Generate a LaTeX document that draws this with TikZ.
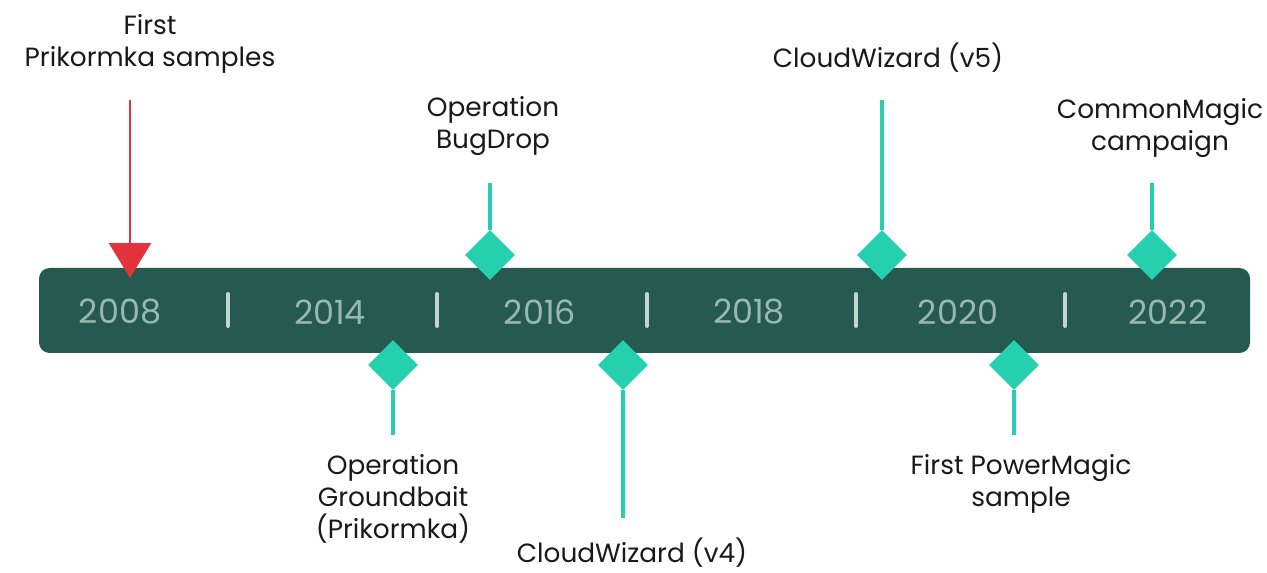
\documentclass[tikz,border=0pt]{standalone}
\usepackage{fontspec}
\setmainfont{Poppins}
\usetikzlibrary{shapes.geometric, arrows.meta}

\definecolor{barcolor}{HTML}{265A50}
\definecolor{mint}{HTML}{24D0AE}
\definecolor{yearcolor}{HTML}{98B9AF}
\definecolor{sepcolor}{HTML}{C6D4CF}
\definecolor{alertred}{HTML}{E3323B}

\begin{document}
\begin{tikzpicture}[x=0.02cm,y=-0.02cm,
    event/.style={diamond,fill=mint,minimum size=1cm,inner sep=0pt},
    stem/.style={draw=mint,line width=1.8pt},
    label/.style={align=center,font=\fontsize{15}{18.3}\selectfont,text=black!90,inner sep=0pt},
    year/.style={font=\fontsize{19}{22}\selectfont,text=yearcolor,inner sep=0pt},
    sep/.style={draw=sepcolor,line width=2.3pt,line cap=round}]
  \useasboundingbox (0,0) rectangle (1267,573);
  %\draw (0,0) grid (1267,573);

  % the bar
  \fill[barcolor,rounded corners=6] (39,268) rectangle (1250,353);

  \node[year] (y2008) at (120,312) {2008};
  \node[year] (y2014) at (330,312) {2014};
  \node[year] (y2016) at (540,312) {2016};
  \node[year] (y2018) at (749,312) {2018};
  \node[year] (y2020) at (958,312) {2020};
  \node[year] (y2022) at (1168,312) {2022};

  \foreach \x in {228,437,647,856,1065}
    \draw[sep] (\x,294) -- (\x,326);

  % first samples
  \node[label] (prikormka) at (150,44) {First\\Prikormka samples};
  \coordinate (prikTop) at (130,100);
  \coordinate (prikTip) at (130,278);
  \draw[alertred,line width=1.5pt,-{Triangle[width=0.84cm,length=0.7cm]}] (prikTop) -- (prikTip);

  % events above the bar
  \node[event] (bugdrop) at (490,255) {};
  \node[event] (cwfive) at (882,255) {};
  \node[event] (commonmagic) at (1152,255) {};
  \node[label] (bugdropText) at (493,126) {Operation\\BugDrop};
  \node[label] (cwfiveText) at (888,58) {CloudWizard (v5)};
  \node[label] (commonmagicText) at (1160,128) {CommonMagic\\campaign};
  \coordinate (bugdropTop) at (490,183);
  \coordinate (cwfiveTop) at (882,100);
  \coordinate (commonmagicTop) at (1152,183);
  \draw[stem] (bugdropTop) -- (bugdrop.north);
  \draw[stem] (cwfiveTop) -- (cwfive.north);
  \draw[stem] (commonmagicTop) -- (commonmagic.north);

  % events below the bar
  \node[event] (groundbait) at (393,365) {};
  \node[event] (cwfour) at (623,365) {};
  \node[event] (powermagic) at (1014,365) {};
  \node[label] (groundbaitText) at (393,499) {Operation\\Groundbait\\(Prikormka)};
  \node[label] (cwfourText) at (632,553) {CloudWizard (v4)};
  \node[label] (powermagicText) at (1021,484) {First PowerMagic\\sample};
  \coordinate (groundbaitEnd) at (393,435);
  \coordinate (cwfourEnd) at (623,518);
  \coordinate (powermagicEnd) at (1014,435);
  \draw[stem] (groundbait.south) -- (groundbaitEnd);
  \draw[stem] (cwfour.south) -- (cwfourEnd);
  \draw[stem] (powermagic.south) -- (powermagicEnd);
\end{tikzpicture}
\end{document}
